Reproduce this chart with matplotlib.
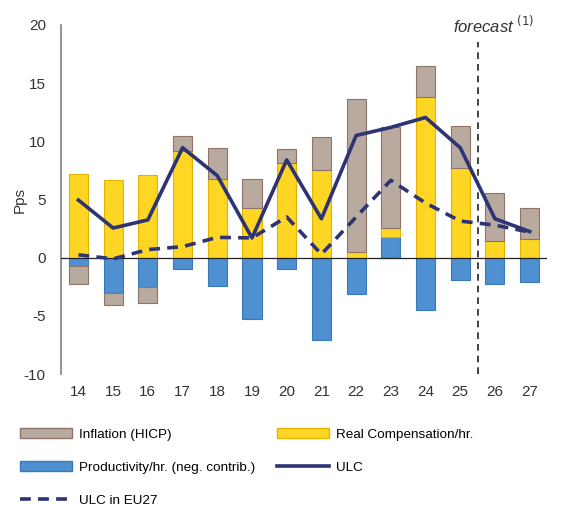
import numpy as np
import matplotlib.pyplot as plt
from matplotlib.patches import Patch
from matplotlib.lines import Line2D

plt.rcParams['font.family'] = ['Liberation Sans', 'DejaVu Sans']
plt.rcParams['axes.unicode_minus'] = False

# years (two digits)
years = ['14', '15', '16', '17', '18', '19', '20', '21', '22', '23', '24', '25', '26', '27']
# contributions, pps
productivity = [-0.7, -3.05, -2.55, -1.0, -2.4, -5.3, -1.0, -7.05, -3.15, 1.8, -4.45, -1.95, -2.3, -2.05]
real_comp = [7.2, 6.65, 7.15, 9.2, 6.75, 4.3, 8.1, 7.5, 0.5, 0.75, 13.85, 7.75, 1.45, 1.6]
inflation = [-1.6, -1.05, -1.35, 1.25, 2.7, 2.5, 1.2, 2.9, 13.1, 8.65, 2.65, 3.6, 4.15, 2.65]
ulc = [4.95, 2.55, 3.25, 9.45, 7.05, 1.7, 8.4, 3.35, 10.5, 11.2, 12.05, 9.45, 3.35, 2.25]
ulc_eu27 = [0.25, -0.1, 0.7, 0.95, 1.75, 1.7, 3.5, 0.3, 3.5, 6.65, 4.7, 3.15, 2.8, 2.2]

c_infl, e_infl = '#B9AAA0', '#8E7468'
c_comp, e_comp = '#FFD624', '#E2B400'
c_prod, e_prod = '#4F90D0', '#3A78BE'
c_ulc = '#2D3373'

fig = plt.figure(figsize=(5.71, 5.09), dpi=100)
ax = fig.add_axes([0.107, 0.265, 0.851, 0.686])

x = np.arange(len(years))
w = 0.55
pos = np.zeros(len(years))
neg = np.zeros(len(years))
for vals, fc, ec in [(productivity, c_prod, e_prod), (real_comp, c_comp, e_comp), (inflation, c_infl, e_infl)]:
    v = np.array(vals)
    bottom = np.where(v >= 0, pos, neg)
    ax.bar(x, v, w, bottom=bottom, color=fc, edgecolor=ec, linewidth=0.8, zorder=2)
    pos = np.where(v >= 0, pos + v, pos)
    neg = np.where(v < 0, neg + v, neg)

ax.plot(x, ulc, color=c_ulc, lw=2.6, zorder=4)
ax.plot(x, ulc_eu27, color=c_ulc, lw=2.6, ls=(0, (3, 2)), zorder=4)
ax.axhline(0, color='#222222', lw=0.9, zorder=3)

# forecast divider
ax.plot([11.5, 11.5], [-10, 18.5], color='#222222', lw=1.2, ls=(0, (4, 3)), zorder=3)
ax.text(11.95, 19.95, 'forecast $^{(1)}$', style='italic', fontsize=12, ha='center', va='center',
        color='#333333', clip_on=False)

ax.set_xlim(-0.5, 13.5)
ax.set_ylim(-10, 20)
ax.set_yticks(range(-10, 21, 5))
ax.set_xticks(x)
ax.set_xticklabels(years)
ax.tick_params(axis='both', length=0, labelsize=11, colors='#333333', pad=8)
ax.tick_params(axis='y', pad=11)
for s in ['top', 'right', 'bottom']:
    ax.spines[s].set_visible(False)
ax.spines['left'].set_color('#808080')
ax.spines['left'].set_linewidth(1.2)
ax.set_ylabel('Pps', fontsize=11, color='#333333')
ax.yaxis.set_label_coords(-0.07, 0.5)

handles = [
    Patch(facecolor=c_infl, edgecolor=e_infl, label='Inflation (HICP)'),
    Patch(facecolor=c_prod, edgecolor=e_prod, label='Productivity/hr. (neg. contrib.)'),
    Line2D([], [], color=c_ulc, lw=2.6, ls=(0, (3, 2)), label='ULC in EU27'),
    Patch(facecolor=c_comp, edgecolor=e_comp, label='Real Compensation/hr.'),
    Line2D([], [], color=c_ulc, lw=2.6, label='ULC'),
]
fig.legend(handles=handles, ncol=2, loc='upper left', bbox_to_anchor=(0.013, 0.182),
           frameon=False, fontsize=9.7, handlelength=3.9, handleheight=0.75,
           handletextpad=0.5, columnspacing=1.6, labelspacing=1.5)

fig.savefig('out.png', dpi=100)
